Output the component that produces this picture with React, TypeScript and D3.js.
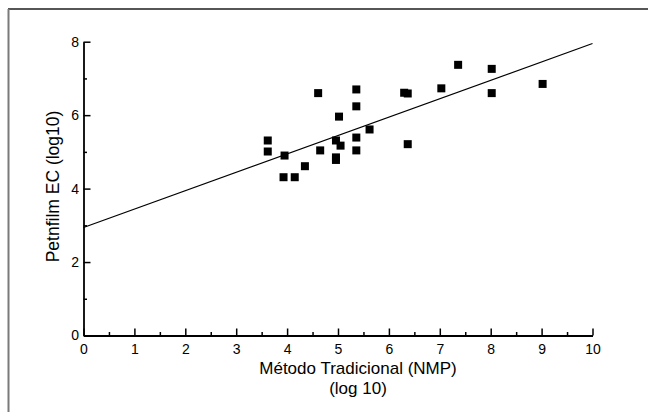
import { useEffect, useRef } from "react";
import * as d3 from "d3";

// points (log10 units)
const metodoTradicional = [
  3.62, 3.62, 3.95, 3.93, 4.15, 4.35, 4.61, 4.65, 4.96, 4.96, 4.96, 5.02, 5.05,
  5.36, 5.36, 5.36, 5.36, 5.62, 6.3, 6.37, 6.37, 7.03, 7.36, 8.02, 8.02, 9.02,
];
const petrifilmEC = [
  5.31, 5.01, 4.9, 4.31, 4.31, 4.61, 6.6, 5.04, 5.31, 4.85, 4.78, 5.96, 5.17,
  6.7, 6.24, 5.39, 5.04, 5.61, 6.61, 6.59, 5.21, 6.73, 7.37, 7.26, 6.6, 6.85,
];
// fitted line endpoints
const fitX = [0, 10];
const fitY = [2.94, 7.95];

const xTicks = [0, 1, 2, 3, 4, 5, 6, 7, 8, 9, 10];
const xMinorTicks = [0.5, 1.5, 2.5, 3.5, 4.5, 5.5, 6.5, 7.5, 8.5, 9.5];
const yTicks = [0, 2, 4, 6, 8];
const yMinorTicks = [1, 3, 5, 7];

const W = 648;
const H = 412;
const FONT = "'Liberation Sans', Arial, sans-serif";

export default function App() {
  const svgRef = useRef<SVGSVGElement | null>(null);

  useEffect(() => {
    document.body.style.margin = "0";
    if (!svgRef.current) return;
    const svg = d3.select(svgRef.current);
    svg.selectAll("*").remove();

    const x = d3.scaleLinear().domain([0, 10]).range([83.5, 592.5]);
    const y = d3.scaleLinear().domain([0, 8]).range([335.5, 41.7]);

    svg.append("rect").attr("width", W).attr("height", H).attr("fill", "#fff");

    // cropped frame of the original figure
    svg.append("line").attr("x1", 8).attr("x2", W).attr("y1", 9).attr("y2", 9)
      .attr("stroke", "#1e1e1e").attr("stroke-width", 1.5);
    svg.append("line").attr("x1", 8.5).attr("x2", 8.5).attr("y1", 9).attr("y2", H)
      .attr("stroke", "#7a7a7a").attr("stroke-width", 2);

    const styleAxis = (g: d3.Selection<SVGGElement, unknown, null, undefined>) => {
      g.select(".domain").attr("stroke", "#000").attr("stroke-width", 1.8);
      g.selectAll(".tick line").attr("stroke", "#000").attr("stroke-width", 1.5);
      g.selectAll(".tick text").attr("fill", "#000").style("font-family", FONT).style("font-size", "14px");
    };

    // x axis
    const gxMinor = svg.append("g").attr("transform", `translate(0,${y(0)})`)
      .call(d3.axisBottom(x).tickValues(xMinorTicks).tickSize(-3.5).tickSizeOuter(0).tickFormat(() => ""));
    gxMinor.select(".domain").remove();
    gxMinor.selectAll(".tick line").attr("stroke", "#000").attr("stroke-width", 1.5);
    const gx = svg.append("g").attr("transform", `translate(0,${y(0)})`)
      .call(d3.axisBottom(x).tickValues(xTicks).tickSize(-7).tickSizeOuter(0).tickPadding(8.5).tickFormat(d3.format("d")));
    styleAxis(gx);

    // y axis
    const gyMinor = svg.append("g").attr("transform", `translate(${x(0)},0)`)
      .call(d3.axisLeft(y).tickValues(yMinorTicks).tickSize(-3.5).tickSizeOuter(0).tickFormat(() => ""));
    gyMinor.select(".domain").remove();
    gyMinor.selectAll(".tick line").attr("stroke", "#000").attr("stroke-width", 1.5);
    const gy = svg.append("g").attr("transform", `translate(${x(0)},0)`)
      .call(d3.axisLeft(y).tickValues(yTicks).tickSize(-7).tickSizeOuter(0).tickPadding(4.5).tickFormat(d3.format("d")));
    styleAxis(gy);

    // fitted line
    const line = d3.line<number>().x((d) => x(d)).y((_, i) => y(fitY[i]));
    svg.append("path").attr("d", line(fitX)).attr("fill", "none")
      .attr("stroke", "#000").attr("stroke-width", 1.2);

    // points
    const s = 8;
    svg.append("g").selectAll("rect").data(metodoTradicional).enter().append("rect")
      .attr("x", (d) => x(d) - s / 2)
      .attr("y", (_, i) => y(petrifilmEC[i]) - s / 2)
      .attr("width", s).attr("height", s).attr("fill", "#000");

    // axis titles
    svg.append("text").attr("x", 358).attr("y", 374).attr("text-anchor", "middle")
      .style("font-family", FONT).style("font-size", "17px").attr("fill", "#000")
      .text("Método Tradicional (NMP)");
    svg.append("text").attr("x", 358).attr("y", 394).attr("text-anchor", "middle")
      .style("font-family", FONT).style("font-size", "17px").attr("fill", "#000")
      .text("(log 10)");
    svg.append("text").attr("transform", `translate(59,186.5) rotate(-90)`).attr("text-anchor", "middle")
      .style("font-family", FONT).style("font-size", "17.5px").attr("fill", "#000")
      .text("Petnfilm EC (log10)");
  }, []);

  return <svg ref={svgRef} width={W} height={H} style={{ display: "block" }} />;
}
